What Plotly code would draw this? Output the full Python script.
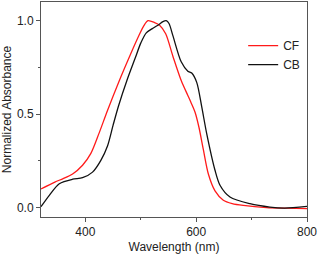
import plotly.graph_objects as go

cf_wl = [320, 345, 360, 377, 395, 410, 425, 440, 460, 480, 495, 505, 513, 525, 534, 545, 558, 573, 585, 591, 598, 605, 613, 622, 634, 649, 665, 685, 727, 760, 800]
cf_val = [0.10, 0.137, 0.155, 0.18, 0.227, 0.29, 0.40, 0.52, 0.67, 0.81, 0.91, 0.97, 1.0, 0.99, 0.976, 0.93, 0.81, 0.68, 0.60, 0.56, 0.51, 0.43, 0.31, 0.18, 0.09, 0.04, 0.022, 0.012, 0.0, -0.003, -0.005]

cb_wl = [320, 335, 353, 377, 395, 413, 428, 440, 450, 460, 475, 490, 500, 510, 522, 533, 540, 546, 551, 558, 573, 585, 592, 601, 610, 619, 634, 643, 661, 697, 733, 760, 800]
cb_val = [0.005, 0.066, 0.128, 0.152, 0.16, 0.19, 0.253, 0.33, 0.44, 0.545, 0.68, 0.80, 0.88, 0.935, 0.96, 0.98, 0.995, 1.0, 0.985, 0.92, 0.78, 0.73, 0.72, 0.67, 0.54, 0.396, 0.20, 0.12, 0.057, 0.021, 0.003, -0.002, 0.007]

fig = go.Figure()
fig.add_trace(go.Scatter(x=cf_wl, y=cf_val, mode="lines", name="CF",
                         line=dict(color="#ff1a1a", width=1.3, shape="spline", smoothing=0.8)))
fig.add_trace(go.Scatter(x=cb_wl, y=cb_val, mode="lines", name="CB",
                         line=dict(color="#111111", width=1.3, shape="spline", smoothing=0.8)))

axis_common = dict(showline=True, linecolor="#555555", linewidth=1, mirror=True,
                   ticks="outside", ticklen=4, tickcolor="#555555", showgrid=False,
                   zeroline=False, tickfont=dict(size=12, color="#222222"))
fig.update_xaxes(range=[320, 800], tickvals=[400, 600, 800],
                 minor=dict(tickvals=[500, 700], ticks="outside", ticklen=2, tickcolor="#555555"),
                 title=dict(text="Wavelength (nm)", font=dict(size=12, color="#222222"), standoff=4),
                 **axis_common)
fig.update_yaxes(range=[-0.05, 1.1], tickvals=[0, 0.5, 1.0], tickformat=".1f",
                 minor=dict(tickvals=[0.25, 0.75], ticks="outside", ticklen=2, tickcolor="#555555"),
                 title=dict(text="Normalized Absorbance", font=dict(size=12, color="#222222"), standoff=6),
                 **axis_common)

fig.update_layout(width=319, height=257, margin=dict(l=41, r=12, t=2, b=40),
                  paper_bgcolor="white", plot_bgcolor="white",
                  font=dict(family="Liberation Sans, Arial, sans-serif", size=12, color="#222222"),
                  legend=dict(x=0.76, y=0.865, xanchor="left", yanchor="top",
                              bgcolor="rgba(0,0,0,0)", font=dict(size=12),
                              itemwidth=30, tracegroupgap=0))
fig.write_html("out.html", config={"displayModeBar": False},
               post_script="document.body.style.margin='0';")
